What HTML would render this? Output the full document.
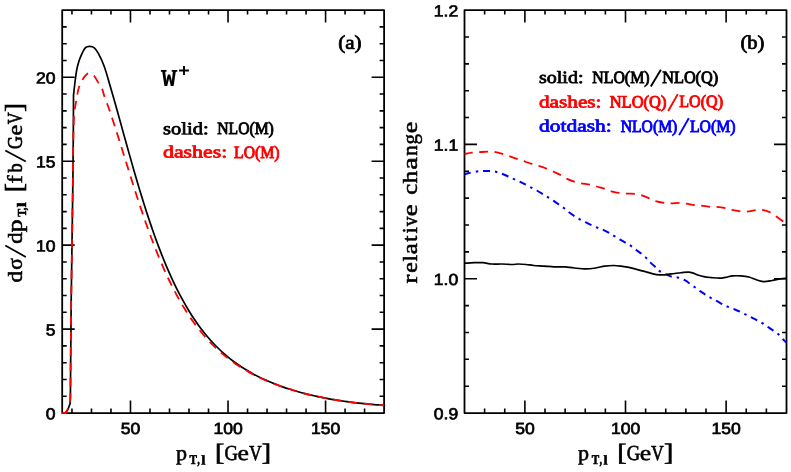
<!DOCTYPE html>
<html><head><meta charset="utf-8"><title>W+ pT,l distributions</title>
<style>
html,body{margin:0;padding:0;background:#fff;}
body{width:791px;height:472px;overflow:hidden;}
svg{display:block;will-change:transform;}
.tk{font-family:"Liberation Sans",sans-serif;font-size:16.1px;fill:#000;stroke:#000;stroke-width:.7px;letter-spacing:0;}
.lg{font-family:"Liberation Serif",serif;font-size:17.3px;}
.ax{font-family:"Liberation Serif",serif;font-size:21.6px;fill:#000;stroke:#000;stroke-width:.6px;}
</style></head><body>
<svg width="791" height="472" viewBox="0 0 791 472">
<rect width="791" height="472" fill="#fff"/>
<rect x="62.2" y="10.1" width="321.9" height="402.95" fill="none" stroke="#000" stroke-linejoin="round" stroke-width="1.8"/>
<path d="M71.95 413.05v-4.5M71.95 10.1v4.5M91.46 413.05v-4.5M91.46 10.1v4.5M110.97 413.05v-4.5M110.97 10.1v4.5M130.48 413.05v-12.5M130.48 10.1v12.5M149.99 413.05v-4.5M149.99 10.1v4.5M169.5 413.05v-4.5M169.5 10.1v4.5M189.01 413.05v-4.5M189.01 10.1v4.5M208.52 413.05v-4.5M208.52 10.1v4.5M228.03 413.05v-12.5M228.03 10.1v12.5M247.54 413.05v-4.5M247.54 10.1v4.5M267.05 413.05v-4.5M267.05 10.1v4.5M286.55 413.05v-4.5M286.55 10.1v4.5M306.06 413.05v-4.5M306.06 10.1v4.5M325.57 413.05v-12.5M325.57 10.1v12.5M345.08 413.05v-4.5M345.08 10.1v4.5M364.59 413.05v-4.5M364.59 10.1v4.5M62.2 396.26h4.5M384.1 396.26h-4.5M62.2 379.47h4.5M384.1 379.47h-4.5M62.2 362.68h4.5M384.1 362.68h-4.5M62.2 345.89h4.5M384.1 345.89h-4.5M62.2 329.1h12.5M384.1 329.1h-12.5M62.2 312.31h4.5M384.1 312.31h-4.5M62.2 295.52h4.5M384.1 295.52h-4.5M62.2 278.73h4.5M384.1 278.73h-4.5M62.2 261.94h4.5M384.1 261.94h-4.5M62.2 245.15h12.5M384.1 245.15h-12.5M62.2 228.36h4.5M384.1 228.36h-4.5M62.2 211.58h4.5M384.1 211.58h-4.5M62.2 194.79h4.5M384.1 194.79h-4.5M62.2 178h4.5M384.1 178h-4.5M62.2 161.21h12.5M384.1 161.21h-12.5M62.2 144.42h4.5M384.1 144.42h-4.5M62.2 127.63h4.5M384.1 127.63h-4.5M62.2 110.84h4.5M384.1 110.84h-4.5M62.2 94.05h4.5M384.1 94.05h-4.5M62.2 77.26h12.5M384.1 77.26h-12.5M62.2 60.47h4.5M384.1 60.47h-4.5M62.2 43.68h4.5M384.1 43.68h-4.5M62.2 26.89h4.5M384.1 26.89h-4.5" fill="none" stroke="#000" stroke-width="1.6"/>
<rect x="464.5" y="10.1" width="322" height="402.95" fill="none" stroke="#000" stroke-linejoin="round" stroke-width="1.8"/>
<path d="M484.62 413.05v-4.5M484.62 10.1v4.5M504.75 413.05v-4.5M504.75 10.1v4.5M524.88 413.05v-12.5M524.88 10.1v12.5M545 413.05v-4.5M545 10.1v4.5M565.12 413.05v-4.5M565.12 10.1v4.5M585.25 413.05v-4.5M585.25 10.1v4.5M605.38 413.05v-4.5M605.38 10.1v4.5M625.5 413.05v-12.5M625.5 10.1v12.5M645.62 413.05v-4.5M645.62 10.1v4.5M665.75 413.05v-4.5M665.75 10.1v4.5M685.88 413.05v-4.5M685.88 10.1v4.5M706 413.05v-4.5M706 10.1v4.5M726.12 413.05v-12.5M726.12 10.1v12.5M746.25 413.05v-4.5M746.25 10.1v4.5M766.38 413.05v-4.5M766.38 10.1v4.5M464.5 386.19h4.5M786.5 386.19h-4.5M464.5 359.32h4.5M786.5 359.32h-4.5M464.5 332.46h4.5M786.5 332.46h-4.5M464.5 305.6h4.5M786.5 305.6h-4.5M464.5 278.73h12.5M786.5 278.73h-12.5M464.5 251.87h4.5M786.5 251.87h-4.5M464.5 225.01h4.5M786.5 225.01h-4.5M464.5 198.14h4.5M786.5 198.14h-4.5M464.5 171.28h4.5M786.5 171.28h-4.5M464.5 144.42h12.5M786.5 144.42h-12.5M464.5 117.55h4.5M786.5 117.55h-4.5M464.5 90.69h4.5M786.5 90.69h-4.5M464.5 63.83h4.5M786.5 63.83h-4.5M464.5 36.96h4.5M786.5 36.96h-4.5" fill="none" stroke="#000" stroke-width="1.6"/>
<g fill="none" stroke-linejoin="round">
<path d="M62.2 413L65.6 413L68.2 408.7L70 403.9L70.4 396.5L70.6 370L71.2 300L72.2 230L72.9 180L73.2 147L73.4 122L73.5 95.5C73.73 93.42 74.38 87.15 74.9 83C75.42 78.85 75.97 74.1 76.6 70.6C77.23 67.1 77.93 64.55 78.7 62C79.47 59.45 80.07 57.68 81.2 55.3C82.33 52.92 84.05 49.18 85.5 47.7C86.95 46.22 88.43 46.38 89.9 46.4C91.37 46.42 92.92 46.67 94.3 47.8C95.68 48.93 96.58 50.22 98.2 53.2C99.82 56.18 102.2 60.91 104 65.7C105.8 70.5 107.33 76.39 109 81.98C110.67 87.57 112.33 93.41 114 99.27C115.67 105.12 117.33 111.14 119 117.12C120.67 123.11 122.33 129.18 124 135.18C125.67 141.17 127.33 147.2 129 153.11C130.67 159.03 132.33 164.91 134 170.67C135.67 176.43 137.33 182.12 139 187.66C140.67 193.21 142.33 198.65 144 203.94C145.67 209.22 147.33 214.39 149 219.39C150.67 224.39 152.33 229.26 154 233.96C155.67 238.66 157.33 243.22 159 247.61C160.67 252.01 162.33 256.25 164 260.34C165.67 264.44 167.33 268.37 169 272.16C170.67 275.95 172.33 279.59 174 283.09C175.67 286.59 177.33 289.94 179 293.17C180.67 296.4 182.33 299.48 184 302.44C185.67 305.41 187.33 308.24 189 310.96C190.67 313.68 192.33 316.28 194 318.77C195.67 321.27 197.33 323.64 199 325.93C200.67 328.21 202.33 330.39 204 332.48C205.67 334.57 207.33 336.57 209 338.48C210.67 340.4 212.33 342.22 214 343.98C215.67 345.73 217.33 347.4 219 349.01C220.67 350.61 222.33 352.14 224 353.62C225.67 355.09 227.33 356.5 229 357.85C230.67 359.2 232.33 360.49 234 361.73C235.67 362.97 237.33 364.16 239 365.3C240.67 366.44 242.33 367.53 244 368.58C245.67 369.64 247.33 370.64 249 371.61C250.67 372.58 252.33 373.51 254 374.4C255.67 375.3 257.33 376.16 259 376.99C260.67 377.82 262.33 378.61 264 379.38C265.67 380.15 267.33 380.88 269 381.59C270.67 382.31 272.33 382.99 274 383.65C275.67 384.31 277.33 384.95 279 385.56C280.67 386.18 282.33 386.77 284 387.34C285.67 387.91 287.33 388.47 289 389C290.67 389.53 292.33 390.05 294 390.54C295.67 391.04 297.33 391.52 299 391.99C300.67 392.45 302.33 392.9 304 393.33C305.67 393.76 307.33 394.18 309 394.58C310.67 394.99 312.33 395.38 314 395.75C315.67 396.13 317.33 396.49 319 396.85C320.67 397.2 322.33 397.54 324 397.86C325.67 398.19 327.33 398.5 329 398.81C330.67 399.11 332.33 399.4 334 399.69C335.67 399.97 337.33 400.24 339 400.5C340.67 400.76 342.33 401.01 344 401.25C345.67 401.49 347.33 401.73 349 401.95C350.67 402.17 352.33 402.38 354 402.58C355.67 402.79 357.33 402.98 359 403.17C360.67 403.35 362.33 403.53 364 403.69C365.67 403.86 367.33 404.02 369 404.17C370.67 404.32 372.33 404.46 374 404.6C375.67 404.73 377.33 404.86 379 404.97C380.67 405.09 383.15 405.24 384 405.3C384.85 405.35 384.08 405.3 384.1 405.3" stroke="#000" stroke-width="1.7"/>
<path d="M62.2 413L65.6 413L68.2 408.7L70 403.9L70.4 396.5L70.6 370L71.2 300L72.2 230L72.9 180L73.2 147L73.5 128L74 116C74.17 114.58 74.63 109.97 75 107.5C75.37 105.03 75.83 103.28 76.2 101.2C76.57 99.12 76.73 97.32 77.2 95C77.67 92.68 78.05 89.97 79 87.3C79.95 84.63 81.73 81.05 82.9 79C84.07 76.95 84.95 75.98 86 75C87.05 74.02 87.88 73 89.2 73.1C90.52 73.2 92.42 74.05 93.9 75.6C95.38 77.15 96.7 80.08 98.1 82.4C99.5 84.72 101.32 87.38 102.3 89.5C103.28 91.62 102.88 91.9 104 95.12C105.12 98.34 107.33 104.05 109 108.82C110.67 113.59 112.33 118.64 114 123.74C115.67 128.84 117.33 134.13 119 139.42C120.67 144.7 122.33 150.11 124 155.46C125.67 160.82 127.33 166.22 129 171.55C130.67 176.87 132.33 182.19 134 187.4C135.67 192.61 137.33 197.77 139 202.8C140.67 207.84 142.33 212.79 144 217.61C145.67 222.43 147.33 227.14 149 231.71C150.67 236.27 152.33 240.72 154 245.02C155.67 249.32 157.33 253.49 159 257.51C160.67 261.54 162.33 265.42 164 269.17C165.67 272.92 167.33 276.53 169 280C170.67 283.48 172.33 286.82 174 290.03C175.67 293.25 177.33 296.32 179 299.29C180.67 302.25 182.33 305.08 184 307.81C185.67 310.54 187.33 313.14 189 315.64C190.67 318.15 192.33 320.54 194 322.84C195.67 325.14 197.33 327.33 199 329.44C200.67 331.55 202.33 333.56 204 335.5C205.67 337.43 207.33 339.28 209 341.05C210.67 342.83 212.33 344.52 214 346.15C215.67 347.78 217.33 349.33 219 350.83C220.67 352.33 222.33 353.76 224 355.13C225.67 356.51 227.33 357.82 229 359.09C230.67 360.36 232.33 361.57 234 362.74C235.67 363.91 237.33 365.02 239 366.1C240.67 367.18 242.33 368.22 244 369.21C245.67 370.21 247.33 371.17 249 372.09C250.67 373.02 252.33 373.9 254 374.76C255.67 375.62 257.33 376.44 259 377.24C260.67 378.04 262.33 378.8 264 379.55C265.67 380.29 267.33 381 269 381.7C270.67 382.39 272.33 383.05 274 383.7C275.67 384.35 277.33 384.97 279 385.57C280.67 386.18 282.33 386.76 284 387.32C285.67 387.89 287.33 388.43 289 388.96C290.67 389.49 292.33 390 294 390.49C295.67 390.99 297.33 391.47 299 391.93C300.67 392.39 302.33 392.84 304 393.27C305.67 393.71 307.33 394.13 309 394.53C310.67 394.94 312.33 395.33 314 395.71C315.67 396.09 317.33 396.46 319 396.81C320.67 397.17 322.33 397.51 324 397.84C325.67 398.17 327.33 398.49 329 398.79C330.67 399.1 332.33 399.4 334 399.68C335.67 399.97 337.33 400.24 339 400.5C340.67 400.77 342.33 401.02 344 401.26C345.67 401.51 347.33 401.74 349 401.96C350.67 402.19 352.33 402.4 354 402.6C355.67 402.81 357.33 403 359 403.19C360.67 403.37 362.33 403.55 364 403.72C365.67 403.88 367.33 404.04 369 404.19C370.67 404.34 372.33 404.48 374 404.61C375.67 404.74 377.33 404.86 379 404.97C380.67 405.09 383.15 405.23 384 405.29C384.85 405.34 384.08 405.29 384.1 405.29" stroke="#f00" stroke-width="1.8" stroke-dasharray="8.9 6.5" stroke-dashoffset="0.1"/>
<path d="M464.5 174.3C465.23 174.08 466.83 173.47 468.9 173C470.97 172.53 474.57 171.83 476.9 171.5C479.23 171.17 480.73 171.08 482.9 171C485.07 170.92 487.63 170.85 489.9 171C492.17 171.15 494.5 171.45 496.5 171.9C498.5 172.35 499.93 172.93 501.9 173.7C503.87 174.47 506.28 175.58 508.3 176.5C510.32 177.42 512.1 178.35 514 179.2C515.9 180.05 517.7 180.67 519.7 181.6C521.7 182.53 524.07 183.8 526 184.8C527.93 185.8 529.5 186.65 531.3 187.6C533.1 188.55 534.82 189.38 536.8 190.5C538.78 191.62 541.32 193.17 543.2 194.3C545.08 195.43 546.4 196.23 548.1 197.3C549.8 198.37 551.57 199.47 553.4 200.7C555.23 201.93 557.3 203.43 559.1 204.7C560.9 205.97 562.55 207.03 564.2 208.3C565.85 209.57 567.23 210.97 569 212.3C570.77 213.63 573 215.13 574.8 216.3C576.6 217.47 578.03 218.32 579.8 219.3C581.57 220.28 583.4 221.2 585.4 222.2C587.4 223.2 589.78 224.38 591.8 225.3C593.82 226.22 595.6 226.95 597.5 227.7C599.4 228.45 601.18 228.92 603.2 229.8C605.22 230.68 607.72 231.93 609.6 233C611.48 234.07 612.82 235.15 614.5 236.2C616.18 237.25 617.77 238.15 619.7 239.3C621.63 240.45 624.17 241.97 626.1 243.1C628.03 244.23 629.6 244.95 631.3 246.1C633 247.25 634.55 248.67 636.3 250C638.05 251.33 640.1 252.72 641.8 254.1C643.5 255.48 645.05 256.88 646.5 258.3C647.95 259.72 648.88 261.02 650.5 262.6C652.12 264.18 654.55 266.3 656.2 267.8C657.85 269.3 658.38 270.33 660.4 271.6C662.42 272.87 666.25 274.52 668.3 275.4C670.35 276.28 671.02 276.52 672.7 276.9C674.38 277.28 676.38 277.15 678.4 277.7C680.42 278.25 682.78 279.13 684.8 280.2C686.82 281.27 688.72 282.85 690.5 284.1C692.28 285.35 693.83 286.48 695.5 287.7C697.17 288.92 698.73 290.17 700.5 291.4C702.27 292.63 704.28 293.95 706.1 295.1C707.92 296.25 709.58 297.28 711.4 298.3C713.22 299.32 715.02 300.13 717 301.2C718.98 302.27 721.35 303.72 723.3 304.7C725.25 305.68 726.77 306.3 728.7 307.1C730.63 307.9 732.9 308.68 734.9 309.5C736.9 310.32 738.77 311.1 740.7 312C742.63 312.9 744.62 313.95 746.5 314.9C748.38 315.85 750.07 316.72 752 317.7C753.93 318.68 756.2 319.77 758.1 320.8C760 321.83 761.65 322.8 763.4 323.9C765.15 325 766.75 326.15 768.6 327.4C770.45 328.65 772.72 330.13 774.5 331.4C776.28 332.67 777.82 333.62 779.3 335C780.78 336.38 782.2 338.43 783.4 339.7C784.6 340.97 785.98 342.12 786.5 342.6" stroke="#00f" stroke-width="2" stroke-dasharray="7 4.9 2.5 4.9" stroke-dashoffset="0.4"/>
<path d="M464.5 154C465.75 153.78 469.58 153 472 152.7C474.42 152.4 476.33 152.38 479 152.2C481.67 152.02 485.45 151.65 488 151.6C490.55 151.55 491.87 151.52 494.3 151.9C496.73 152.28 500.17 153.22 502.6 153.9C505.03 154.58 506.37 155.12 508.9 156C511.43 156.88 515.37 158.35 517.8 159.2C520.23 160.05 521.07 160.28 523.5 161.1C525.93 161.92 529.85 163.32 532.4 164.1C534.95 164.88 536.37 165.02 538.8 165.8C541.23 166.58 544.63 167.85 547 168.8C549.37 169.75 550.75 170.47 553 171.5C555.25 172.53 558.25 173.82 560.5 175C562.75 176.18 564.12 177.47 566.5 178.6C568.88 179.73 572.37 181.02 574.8 181.8C577.23 182.58 578.57 182.83 581.1 183.3C583.63 183.77 587.45 184.07 590 184.6C592.55 185.13 593.92 185.8 596.4 186.5C598.88 187.2 602.47 188 604.9 188.8C607.33 189.6 608.55 190.62 611 191.3C613.45 191.98 617.07 192.52 619.6 192.9C622.13 193.28 623.65 193.45 626.2 193.6C628.75 193.75 632.4 193.53 634.9 193.8C637.4 194.07 638.73 194.42 641.2 195.2C643.67 195.98 647.32 197.52 649.7 198.5C652.08 199.48 653.1 200.38 655.5 201.1C657.9 201.82 661.53 202.43 664.1 202.8C666.67 203.17 668.28 203.3 670.9 203.3C673.52 203.3 677.22 202.73 679.8 202.8C682.38 202.87 683.88 203.3 686.4 203.7C688.92 204.1 692.4 204.88 694.9 205.2C697.4 205.52 698.83 205.32 701.4 205.6C703.97 205.88 707.73 206.68 710.3 206.9C712.87 207.12 714.23 206.7 716.8 206.9C719.37 207.1 723.17 207.6 725.7 208.1C728.23 208.6 729.55 209.37 732 209.9C734.45 210.43 737.87 211 740.4 211.3C742.93 211.6 744.62 211.9 747.2 211.7C749.78 211.5 753.38 210.4 755.9 210.1C758.42 209.8 759.82 209.48 762.3 209.9C764.78 210.32 768.47 211.52 770.8 212.6C773.13 213.68 774.15 214.85 776.3 216.4C778.45 217.95 782 220.55 783.7 221.9C785.4 223.25 786.03 224.07 786.5 224.5" stroke="#f00" stroke-width="1.8" stroke-dasharray="8.9 6.5" stroke-dashoffset="0.6"/>
<path d="M464.5 263.2C466.08 263.12 470.93 262.78 474 262.7C477.07 262.62 479.93 262.48 482.9 262.7C485.87 262.92 488.63 263.78 491.8 264C494.97 264.22 498.52 263.92 501.9 264C505.28 264.08 509.35 264.5 512.1 264.5C514.85 264.5 516.07 264 518.4 264C520.73 264 523.55 264.25 526.1 264.5C528.65 264.75 530.73 265.23 533.7 265.5C536.67 265.77 540.53 265.88 543.9 266.1C547.27 266.32 551.28 266.67 553.9 266.8C556.52 266.93 557.7 266.88 559.6 266.9C561.5 266.92 562.87 266.72 565.3 266.9C567.73 267.08 570.8 267.67 574.2 268C577.6 268.33 582.1 268.9 585.7 268.9C589.3 268.9 592.63 268.47 595.8 268C598.97 267.53 601.73 266.52 604.7 266.1C607.67 265.68 610.85 265.5 613.6 265.5C616.35 265.5 618.87 265.82 621.2 266.1C623.53 266.38 625.05 266.67 627.6 267.2C630.15 267.73 633.53 268.57 636.5 269.3C639.47 270.03 642.65 270.85 645.4 271.6C648.15 272.35 650.67 273.25 653 273.8C655.33 274.35 657.48 274.73 659.4 274.9C661.32 275.07 662.6 274.97 664.5 274.8C666.4 274.63 668.48 274.2 670.8 273.9C673.12 273.6 676.28 273.25 678.4 273C680.52 272.75 681.8 272.53 683.5 272.4C685.2 272.27 687.12 272.12 688.6 272.2C690.08 272.28 690.92 272.45 692.4 272.9C693.88 273.35 695.58 274.27 697.5 274.9C699.42 275.53 701.57 276.25 703.9 276.7C706.23 277.15 708.85 277.35 711.5 277.6C714.15 277.85 717.45 278.23 719.8 278.2C722.15 278.17 723.47 277.78 725.6 277.4C727.73 277.02 730.07 276.15 732.6 275.9C735.13 275.65 738.08 275.72 740.8 275.9C743.52 276.08 746.18 276.32 748.9 277C751.62 277.68 754.57 279.22 757.1 280C759.63 280.78 761.58 281.62 764.1 281.7C766.62 281.78 769.48 280.98 772.2 280.5C774.92 280.02 778.02 279.18 780.4 278.8C782.78 278.42 785.48 278.3 786.5 278.2" stroke="#000" stroke-width="1.7"/>
</g>
<text transform="translate(130.48 434) rotate(.03) scale(1.09 1)" text-anchor="middle" class="tk">50</text>
<text transform="translate(524.88 434) rotate(.03) scale(1.09 1)" text-anchor="middle" class="tk">50</text>
<text transform="translate(228.03 434) rotate(.03) scale(1.09 1)" text-anchor="middle" class="tk">100</text>
<text transform="translate(625.5 434) rotate(.03) scale(1.09 1)" text-anchor="middle" class="tk">100</text>
<text transform="translate(325.57 434) rotate(.03) scale(1.09 1)" text-anchor="middle" class="tk">150</text>
<text transform="translate(726.12 434) rotate(.03) scale(1.09 1)" text-anchor="middle" class="tk">150</text>
<text transform="translate(55.5 419.35) rotate(.03) scale(1.09 1)" text-anchor="end" class="tk">0</text>
<text transform="translate(55.5 335.4) rotate(.03) scale(1.09 1)" text-anchor="end" class="tk">5</text>
<text transform="translate(55.5 251.45) rotate(.03) scale(1.09 1)" text-anchor="end" class="tk">10</text>
<text transform="translate(55.5 167.51) rotate(.03) scale(1.09 1)" text-anchor="end" class="tk">15</text>
<text transform="translate(55.5 83.56) rotate(.03) scale(1.09 1)" text-anchor="end" class="tk">20</text>
<text transform="translate(458.2 419.35) rotate(.03) scale(1.09 1)" text-anchor="end" class="tk">0.9</text>
<text transform="translate(458.2 285.03) rotate(.03) scale(1.09 1)" text-anchor="end" class="tk">1.0</text>
<text transform="translate(458.2 150.72) rotate(.03) scale(1.09 1)" text-anchor="end" class="tk">1.1</text>
<text transform="translate(458.2 16.4) rotate(.03) scale(1.09 1)" text-anchor="end" class="tk">1.2</text>
<text transform="translate(163 134.2) rotate(.03)" class="lg" fill="#000" stroke="#000" stroke-width="0.75" textLength="45.6" lengthAdjust="spacingAndGlyphs">solid:</text>
<text transform="translate(217.3 134.2) rotate(.03)" class="lg" fill="#000" stroke="#000" stroke-width="0.95" textLength="56.5" lengthAdjust="spacingAndGlyphs">NLO(M)</text>
<text transform="translate(163 157.5) rotate(.03)" class="lg" fill="#f00" stroke="#f00" stroke-width="0.75" textLength="64.2" lengthAdjust="spacingAndGlyphs">dashes:</text>
<text transform="translate(234 157.5) rotate(.03)" class="lg" fill="#f00" stroke="#f00" stroke-width="0.95" textLength="45.6" lengthAdjust="spacingAndGlyphs">LO(M)</text>
<text transform="translate(539 83) rotate(.03)" class="lg" fill="#000" stroke="#000" stroke-width="0.75" textLength="44.5" lengthAdjust="spacingAndGlyphs">solid:</text>
<text transform="translate(592.2 83) rotate(.03)" class="lg" fill="#000" stroke="#000" stroke-width="0.95" textLength="57.4" lengthAdjust="spacingAndGlyphs">NLO(M)</text>
<path d="M650.8 86.6L660.9 69.7" stroke="#000" stroke-width="1.9" fill="none"/>
<text transform="translate(662.2 83) rotate(.03)" class="lg" fill="#000" stroke="#000" stroke-width="0.95" textLength="56" lengthAdjust="spacingAndGlyphs">NLO(Q)</text>
<text transform="translate(539 107.4) rotate(.03)" class="lg" fill="#f00" stroke="#f00" stroke-width="0.75" textLength="62.5" lengthAdjust="spacingAndGlyphs">dashes:</text>
<text transform="translate(609.7 107.4) rotate(.03)" class="lg" fill="#f00" stroke="#f00" stroke-width="0.95" textLength="56.7" lengthAdjust="spacingAndGlyphs">NLO(Q)</text>
<path d="M668.2 111L677.8 94.1" stroke="#f00" stroke-width="1.9" fill="none"/>
<text transform="translate(679.2 107.4) rotate(.03)" class="lg" fill="#f00" stroke="#f00" stroke-width="0.95" textLength="43.8" lengthAdjust="spacingAndGlyphs">LO(Q)</text>
<text transform="translate(539 131.5) rotate(.03)" class="lg" fill="#00f" stroke="#00f" stroke-width="0.75" textLength="72.7" lengthAdjust="spacingAndGlyphs">dotdash:</text>
<text transform="translate(620.7 131.5) rotate(.03)" class="lg" fill="#00f" stroke="#00f" stroke-width="0.95" textLength="56.6" lengthAdjust="spacingAndGlyphs">NLO(M)</text>
<path d="M679.1 135.1L688.8 118.2" stroke="#00f" stroke-width="1.9" fill="none"/>
<text transform="translate(689.9 131.5) rotate(.03)" class="lg" fill="#00f" stroke="#00f" stroke-width="0.95" textLength="45.7" lengthAdjust="spacingAndGlyphs">LO(M)</text>
<text transform="translate(338.2 48.8) rotate(.03)" class="lg" fill="#000" stroke="#000" stroke-width="0.75" textLength="23.4" lengthAdjust="spacingAndGlyphs" style="font-size:19.2px">(a)</text>
<text transform="translate(740.4 48.8) rotate(.03)" class="lg" fill="#000" stroke="#000" stroke-width="0.75" textLength="24" lengthAdjust="spacingAndGlyphs" style="font-size:19.2px">(b)</text>
<text x="162.0" y="85.6" style="font-family:'Liberation Mono',monospace;font-weight:bold;font-size:23.4px">W</text>
<path d="M160.9 70.9h5.6M171.7 70.9h5.6" stroke="#000" stroke-width="1.6" fill="none"/>
<path d="M179.1 70.5h9.8M184 66v9" stroke="#000" stroke-width="1.9" fill="none"/>
<g transform="translate(0 460) rotate(.03)"><text transform="translate(175.9 0) scale(1.034 1)" style="font-family:'Liberation Serif',serif;font-size:21.3px;stroke:#000;stroke-width:0.55px">p</text><text transform="translate(189.43 4.3) scale(0.833 1)" style="font-family:'Liberation Serif',serif;font-size:13.4px;font-weight:bold;stroke:#000;stroke-width:0.63px">T</text><text transform="translate(197.59 4.3) scale(0.638 1)" style="font-family:'Liberation Serif',serif;font-size:13.4px;font-weight:bold;stroke:#000;stroke-width:0.9px">,</text><text transform="translate(201.21 4.3) scale(1.114 1)" style="font-family:'Liberation Serif',serif;font-size:13.4px;font-weight:bold;stroke:#000;stroke-width:0.5px">l</text><text transform="translate(215.1 0.3) scale(1.169 1)" style="font-family:'Liberation Serif',serif;font-size:24.2px;stroke:#000;stroke-width:0.7px">[</text><text transform="translate(224.59 0) scale(0.874 1)" style="font-family:'Liberation Serif',serif;font-size:21.3px;stroke:#000;stroke-width:0.66px">G</text><text transform="translate(237.55 0) scale(1.205 1)" style="font-family:'Liberation Serif',serif;font-size:21.3px;stroke:#000;stroke-width:0.55px">e</text><text transform="translate(249.16 0) scale(0.805 1)" style="font-family:'Liberation Serif',serif;font-size:21.3px;stroke:#000;stroke-width:0.73px">V</text><text transform="translate(261.69 0.3) scale(1.151 1)" style="font-family:'Liberation Serif',serif;font-size:24.2px;stroke:#000;stroke-width:0.7px">]</text></g>
<g transform="translate(402.2 460) rotate(.03)"><text transform="translate(175.9 0) scale(1.034 1)" style="font-family:'Liberation Serif',serif;font-size:21.3px;stroke:#000;stroke-width:0.55px">p</text><text transform="translate(189.43 4.3) scale(0.833 1)" style="font-family:'Liberation Serif',serif;font-size:13.4px;font-weight:bold;stroke:#000;stroke-width:0.63px">T</text><text transform="translate(197.59 4.3) scale(0.638 1)" style="font-family:'Liberation Serif',serif;font-size:13.4px;font-weight:bold;stroke:#000;stroke-width:0.9px">,</text><text transform="translate(201.21 4.3) scale(1.114 1)" style="font-family:'Liberation Serif',serif;font-size:13.4px;font-weight:bold;stroke:#000;stroke-width:0.5px">l</text><text transform="translate(215.1 0.3) scale(1.169 1)" style="font-family:'Liberation Serif',serif;font-size:24.2px;stroke:#000;stroke-width:0.7px">[</text><text transform="translate(224.59 0) scale(0.874 1)" style="font-family:'Liberation Serif',serif;font-size:21.3px;stroke:#000;stroke-width:0.66px">G</text><text transform="translate(237.55 0) scale(1.205 1)" style="font-family:'Liberation Serif',serif;font-size:21.3px;stroke:#000;stroke-width:0.55px">e</text><text transform="translate(249.16 0) scale(0.805 1)" style="font-family:'Liberation Serif',serif;font-size:21.3px;stroke:#000;stroke-width:0.73px">V</text><text transform="translate(261.69 0.3) scale(1.151 1)" style="font-family:'Liberation Serif',serif;font-size:24.2px;stroke:#000;stroke-width:0.7px">]</text></g>
<g transform="translate(21.9 282.1) rotate(-90)"><text transform="translate(-0.48 0) scale(1.081 1)" style="font-family:'Liberation Serif',serif;font-size:21.3px;stroke:#000;stroke-width:0.55px">d</text><text transform="translate(12.23 0) scale(1.005 1)" style="font-family:'Liberation Serif',serif;font-size:21.3px;stroke:#000;stroke-width:0.55px">σ</text><path d="M25.1 3.9L36.7 -16.6" stroke="#000" stroke-width="1.75" fill="none"/><text transform="translate(38.23 0) scale(1.071 1)" style="font-family:'Liberation Serif',serif;font-size:21.3px;stroke:#000;stroke-width:0.55px">d</text><text transform="translate(49.94 0) scale(1.203 1)" style="font-family:'Liberation Serif',serif;font-size:21.3px;stroke:#000;stroke-width:0.55px">p</text><text transform="translate(65.32 4.4) scale(0.880 1)" style="font-family:'Liberation Serif',serif;font-size:13.4px;font-weight:bold;stroke:#000;stroke-width:0.59px">T</text><text transform="translate(72.08 4.4) scale(0.676 1)" style="font-family:'Liberation Serif',serif;font-size:13.4px;font-weight:bold;stroke:#000;stroke-width:0.83px">,</text><text transform="translate(74.84 4.4) scale(1.361 1)" style="font-family:'Liberation Serif',serif;font-size:13.4px;font-weight:bold;stroke:#000;stroke-width:0.5px">l</text><text transform="translate(89.87 0.3) scale(1.132 1)" style="font-family:'Liberation Serif',serif;font-size:24.2px;stroke:#000;stroke-width:0.7px">[</text><text transform="translate(98.6 0) scale(1.149 1)" style="font-family:'Liberation Serif',serif;font-size:21.3px;stroke:#000;stroke-width:0.55px">f</text><text transform="translate(109.55 0) scale(0.854 1)" style="font-family:'Liberation Serif',serif;font-size:21.3px;stroke:#000;stroke-width:0.68px">b</text><path d="M120.5 3.9L131.5 -16.6" stroke="#000" stroke-width="1.75" fill="none"/><text transform="translate(133.12 0) scale(0.838 1)" style="font-family:'Liberation Serif',serif;font-size:21.3px;stroke:#000;stroke-width:0.69px">G</text><text transform="translate(146.51 0) scale(1.129 1)" style="font-family:'Liberation Serif',serif;font-size:21.3px;stroke:#000;stroke-width:0.55px">e</text><text transform="translate(157.87 0) scale(0.772 1)" style="font-family:'Liberation Serif',serif;font-size:21.3px;stroke:#000;stroke-width:0.77px">V</text><text transform="translate(170.46 0.3) scale(1.076 1)" style="font-family:'Liberation Serif',serif;font-size:24.2px;stroke:#000;stroke-width:0.7px">]</text></g>
<g transform="translate(416.7 283.2) rotate(-90)"><text transform="translate(-0.18 0) scale(1.250 1)" style="font-family:'Liberation Serif',serif;font-size:21.3px;stroke:#000;stroke-width:0.55px">r</text><text transform="translate(10.52 0) scale(1.116 1)" style="font-family:'Liberation Serif',serif;font-size:21.3px;stroke:#000;stroke-width:0.55px">e</text><text transform="translate(21.67 0) scale(1.125 1)" style="font-family:'Liberation Serif',serif;font-size:21.3px;stroke:#000;stroke-width:0.55px">l</text><text transform="translate(28.88 0) scale(1.165 1)" style="font-family:'Liberation Serif',serif;font-size:21.3px;stroke:#000;stroke-width:0.55px">a</text><text transform="translate(41.53 0) scale(1.038 1)" style="font-family:'Liberation Serif',serif;font-size:21.3px;stroke:#000;stroke-width:0.55px">t</text><text transform="translate(49.67 0) scale(1.066 1)" style="font-family:'Liberation Serif',serif;font-size:21.3px;stroke:#000;stroke-width:0.55px">i</text><text transform="translate(56.95 0) scale(0.901 1)" style="font-family:'Liberation Serif',serif;font-size:21.3px;stroke:#000;stroke-width:0.63px">v</text><text transform="translate(67.01 0) scale(1.256 1)" style="font-family:'Liberation Serif',serif;font-size:21.3px;stroke:#000;stroke-width:0.55px">e</text><text transform="translate(88.42 0) scale(1.152 1)" style="font-family:'Liberation Serif',serif;font-size:21.3px;stroke:#000;stroke-width:0.55px">c</text><text transform="translate(99.8 0) scale(1.201 1)" style="font-family:'Liberation Serif',serif;font-size:21.3px;stroke:#000;stroke-width:0.55px">h</text><text transform="translate(113.45 0) scale(1.331 1)" style="font-family:'Liberation Serif',serif;font-size:21.3px;stroke:#000;stroke-width:0.55px">a</text><text transform="translate(127.37 0) scale(0.976 1)" style="font-family:'Liberation Serif',serif;font-size:21.3px;stroke:#000;stroke-width:0.57px">n</text><text transform="translate(138.75 0) scale(0.986 1)" style="font-family:'Liberation Serif',serif;font-size:21.3px;stroke:#000;stroke-width:0.56px">g</text><text transform="translate(150.04 0) scale(1.218 1)" style="font-family:'Liberation Serif',serif;font-size:21.3px;stroke:#000;stroke-width:0.55px">e</text></g>
</svg>
</body></html>
